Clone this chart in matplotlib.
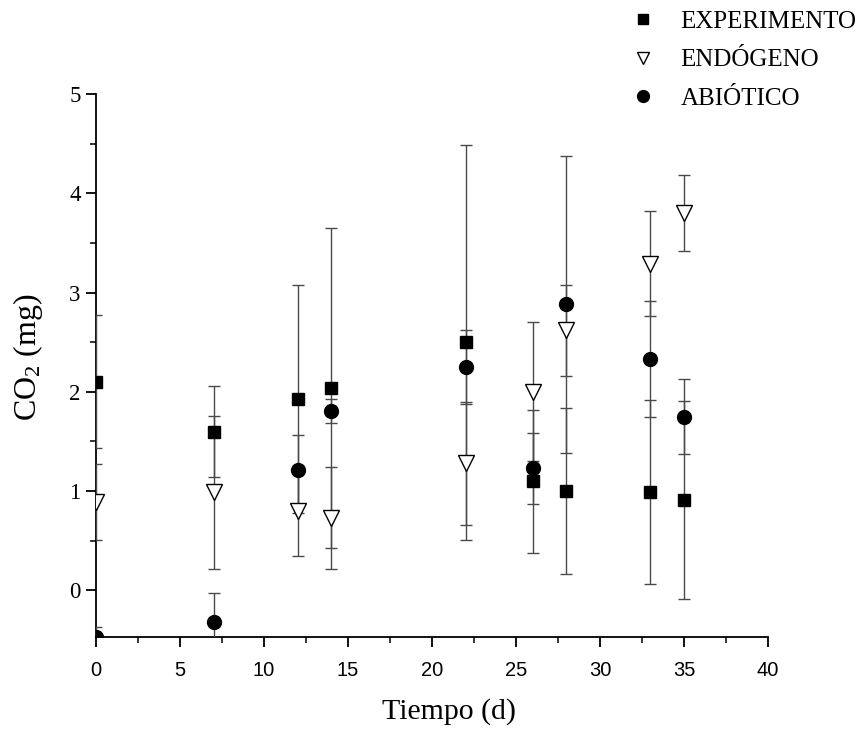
import matplotlib
matplotlib.use('Agg')
import matplotlib.pyplot as plt
from matplotlib.ticker import MultipleLocator

plt.rcParams['font.family'] = ['Liberation Serif', 'DejaVu Serif']
plt.rcParams['mathtext.fontset'] = 'custom'
plt.rcParams['mathtext.rm'] = 'Liberation Serif'
plt.rcParams['mathtext.it'] = 'Liberation Serif:italic'

# Data
tiempo = [0, 7, 12, 14, 22, 26, 28, 33, 35]
experimento = [2.10, 1.60, 1.93, 2.04, 2.50, 1.10, 1.00, 0.99, 0.91]
experimento_err = [0.67, 0.46, 1.15, 1.61, 1.99, 0.72, 0.84, 0.93, 1.00]
endogeno = [0.89, 0.99, 0.80, 0.73, 1.28, 2.00, 2.62, 3.29, 3.80]
endogeno_err = [0.38, 0.77, 0.45, 0.51, 0.62, 0.70, 0.46, 0.53, 0.38]
abiotico = [-0.47, -0.32, 1.21, 1.81, 2.25, 1.23, 2.88, 2.33, 1.75]
abiotico_err = [0.10, 0.29, 0.35, 0.12, 0.37, 0.36, 1.50, 0.58, 0.38]

xticks = [0, 5, 10, 15, 20, 25, 30, 35, 40]
yticks = [0, 1, 2, 3, 4, 5]

fig = plt.figure(figsize=(8.62, 7.33), dpi=100)
ax = fig.add_axes([96/862, 1-637/733, (768-96)/862, (637-94)/733])

ecol = '#4a4a4a'
eb = dict(ecolor=ecol, elinewidth=1.0, capsize=4, capthick=1.0, linestyle='none')
ax.errorbar(tiempo, experimento, yerr=experimento_err, fmt='s', color='black',
            markersize=9, label='EXPERIMENTO', zorder=3, **eb)
ax.errorbar(tiempo, endogeno, yerr=endogeno_err, fmt='v', markerfacecolor='white',
            markeredgecolor='black', markeredgewidth=1.0, markersize=11,
            label='ENDÓGENO', zorder=3, **eb)
ax.errorbar(tiempo, abiotico, yerr=abiotico_err, fmt='o', color='black',
            markersize=10, label='ABIÓTICO', zorder=3, **eb)

ax.set_xlim(0, 40)
ax.set_ylim(-0.47, 5)
ax.spines['top'].set_visible(False)
ax.spines['right'].set_visible(False)
for s in ['left', 'bottom']:
    ax.spines[s].set_linewidth(1.3)

ax.set_xticks(xticks)
ax.set_yticks(yticks)
ax.xaxis.set_minor_locator(MultipleLocator(2.5))
ax.yaxis.set_minor_locator(MultipleLocator(0.5))
ax.tick_params(which='major', direction='out', length=7, width=1.3)
ax.tick_params(which='minor', direction='out', length=4, width=1.1)
ax.tick_params(axis='y', labelsize=16.5, pad=4)
ax.tick_params(axis='x', labelsize=14.5, pad=10)
for lab in ax.get_xticklabels():
    lab.set_family(['Liberation Sans', 'DejaVu Sans'])

ax.set_xlabel('Tiempo (d)', fontsize=21.5)
ax.set_ylabel(r'CO$_2$ (mg)', fontsize=23)
ax.xaxis.set_label_coords(0.525, -0.113)
ax.yaxis.set_label_coords(-0.076, 0.516)

h, l = ax.get_legend_handles_labels()
h = [x[0] for x in h]
fig.legend(h, l, loc='upper left', bbox_to_anchor=(608/862, 1.017), frameon=False,
           fontsize=18, handlelength=1.0, handletextpad=1.0, labelspacing=0.65,
           markerscale=0.85)

fig.savefig('out.png', dpi=100)
